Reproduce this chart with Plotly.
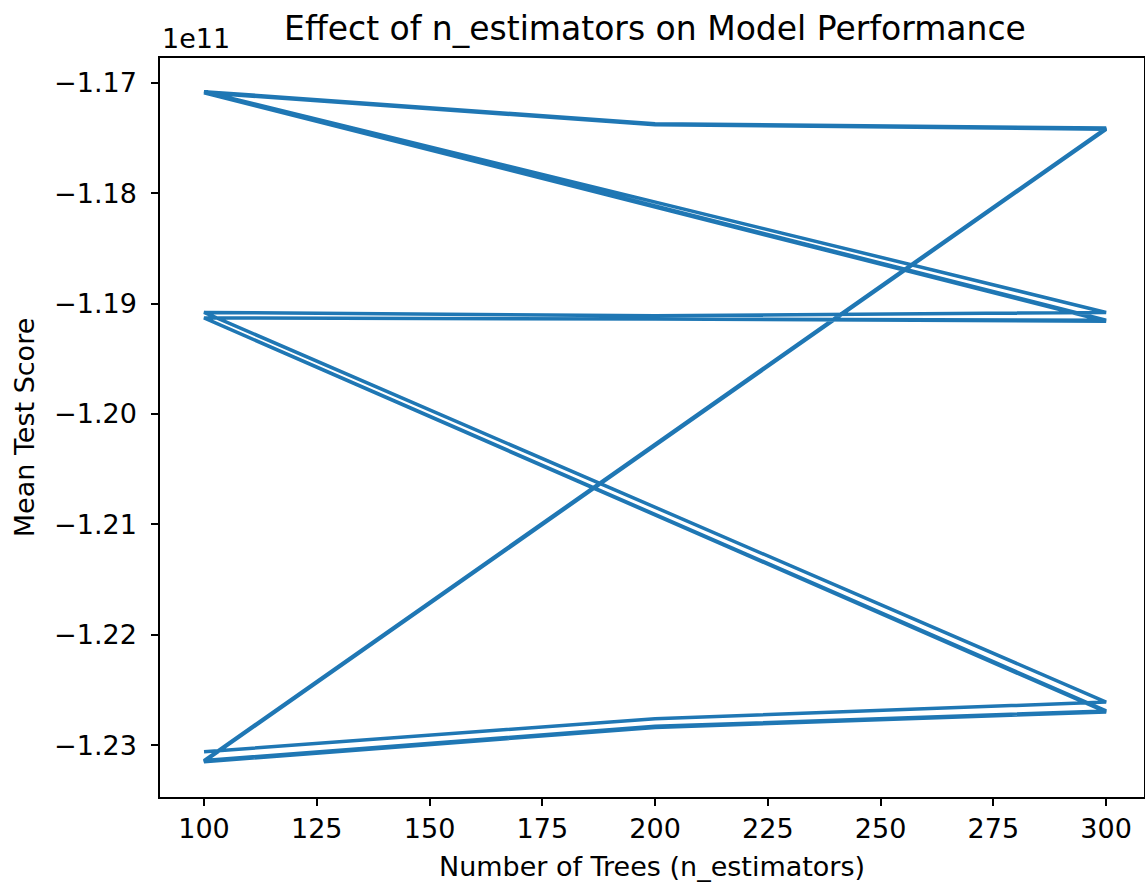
import plotly.graph_objects as go

# Grid-search results in the order they were evaluated
n_estimators = [100, 200, 300] * 9
mean_test_score = [
    -1.2306e11, -1.2276e11, -1.2261e11,
    -1.1908e11, -1.1911e11, -1.1908e11,
    -1.1708e11, -1.1737e11, -1.1741e11,
    -1.2314e11, -1.2283e11, -1.2269e11,
    -1.1913e11, -1.1914e11, -1.1916e11,
    -1.1709e11, -1.1738e11, -1.1742e11,
    -1.2315e11, -1.2284e11, -1.2270e11,
    -1.1913e11, -1.1914e11, -1.1915e11,
    -1.1708e11, -1.1737e11, -1.1741e11,
]
x_ticks = [100, 125, 150, 175, 200, 225, 250, 275, 300]
y_ticks = [-1.23, -1.22, -1.21, -1.20, -1.19, -1.18, -1.17]
y_tick_labels = ["\u22121.23", "\u22121.22", "\u22121.21", "\u22121.20",
                 "\u22121.19", "\u22121.18", "\u22121.17"]
scale = 1e11

FONT = "DejaVu Sans"
FS = 27

fig = go.Figure()
fig.add_trace(go.Scatter(
    x=n_estimators,
    y=[v / scale for v in mean_test_score],
    mode="lines",
    line=dict(color="#1f77b4", width=3.5),
    showlegend=False,
))

axis_common = dict(
    showline=True, linecolor="black", linewidth=1.5, mirror=True,
    ticks="outside", ticklen=7, tickwidth=1.5, tickcolor="black",
    showgrid=False, zeroline=False, automargin=False,
    tickfont=dict(family=FONT, size=FS, color="black"),
)

fig.update_layout(
    width=1145, height=884,
    margin=dict(l=160, r=1, t=58, b=87),
    plot_bgcolor="white", paper_bgcolor="white",
    title=dict(text="Effect of n_estimators on Model Performance",
               font=dict(family=FONT, size=33, color="black"),
               x=655 / 1145, xanchor="center", y=1 - 28 / 884, yanchor="middle"),
    xaxis=dict(range=[90.24, 308.4], tickvals=x_ticks,
               title=dict(text="Number of Trees (n_estimators)",
                          font=dict(family=FONT, size=FS, color="black"),
                          standoff=14),
               **axis_common),
    yaxis=dict(range=[-1.2347, -1.16775], tickvals=y_ticks, ticktext=y_tick_labels,
               ticklabelstandoff=9,
               title=dict(text="Mean Test Score",
                          font=dict(family=FONT, size=FS, color="black"),
                          standoff=12),
               **axis_common),
    annotations=[dict(text="1e11", xref="paper", yref="paper", x=0, y=1,
                      xanchor="left", yanchor="bottom", yshift=2, showarrow=False,
                      font=dict(family=FONT, size=FS, color="black"))],
)

fig.write_html("out.html")
